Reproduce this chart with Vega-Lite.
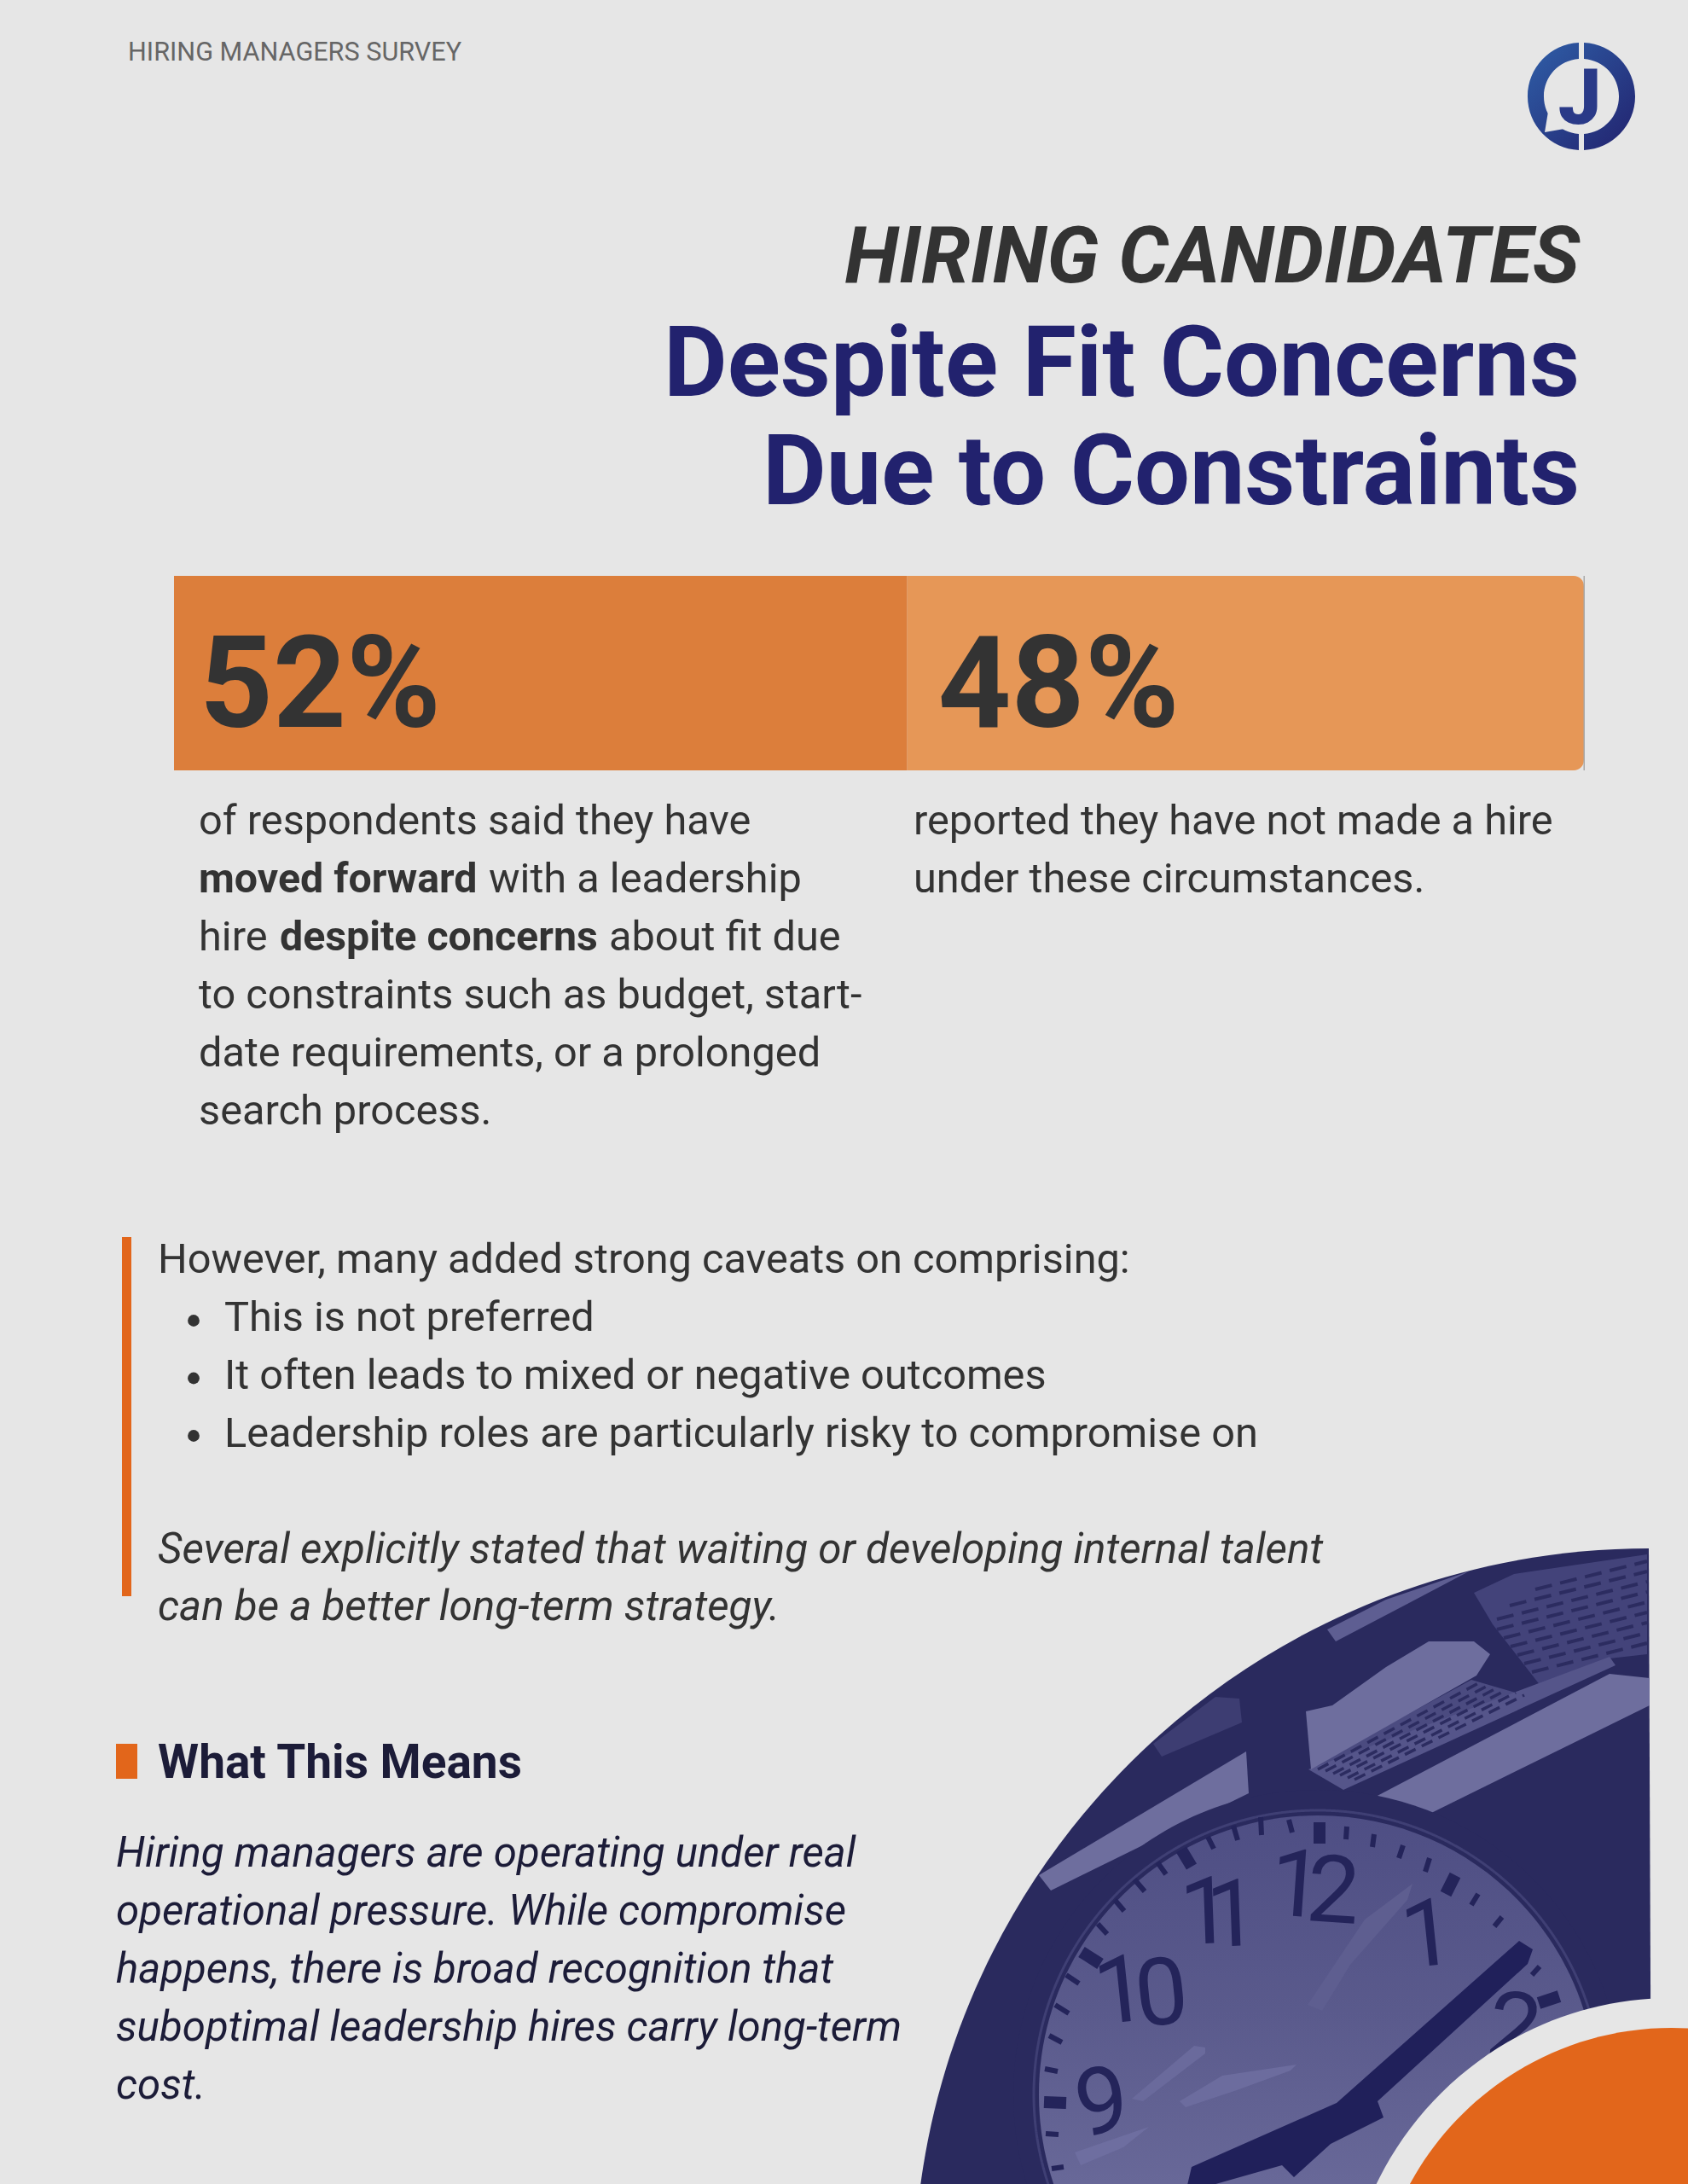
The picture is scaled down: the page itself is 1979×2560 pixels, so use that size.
{
  "$schema": "https://vega.github.io/schema/vega-lite/v6.json",
  "width": 1979,
  "height": 2560,
  "autosize": {"type": "none"},
  "padding": 0,
  "background": "#e6e6e6",
  "config": {"view": {"stroke": null}},
  "datasets": {
    "answers": [
      {"answer": "Yes", "share": 0.52},
      {"answer": "No", "share": 0.48}
    ]
  },
  "layer": [
    {
      "data": {"values": [{"part": "frame"}, {"part": "panel a"}, {"part": "panel b"}, {"part": "beam shade"}, {"part": "sliver"}, {"part": "thin band"}, {"part": "long band"}, {"part": "lamp"}, {"part": "left band"}, {"part": "rim"}]},
      "mark": {"type": "point", "filled": true, "size": 4, "opacity": 1, "strokeWidth": 0},
      "encoding": {
        "x": {"datum": "photo", "type": "nominal", "scale": {"type": "point", "range": [1000, 1000]}, "axis": null},
        "y": {"datum": "photo", "type": "nominal", "scale": {"type": "point", "range": [1780, 1780]}, "axis": null},
        "shape": {"field": "part", "type": "nominal", "legend": null, "scale": {
          "domain": ["frame", "panel a", "panel b", "beam shade", "sliver", "thin band", "long band", "lamp", "left band", "rim"],
          "range": [
            "M933 35A862 862 0 0 0 78 790L936 790Z",
            "M728 87L775 65L931 42L931 159L887 164L806 196L750 124Z",
            "M537 291L725 189L794 209L594 308Z",
            "M352 264L425 209L453 211L456 239L362 279Z",
            "M556 130L625 95L722 62L650 100L566 144Z",
            "M534 294L887 162L894 172L575 318Z",
            "M609 328L887 182L934 187L934 219L662 353Z",
            "M531 226L562 219L625 174L675 144L728 144L747 159L731 184L537 294Z",
            "M218 418L232 436L464 322L461 273Z",
            "M188 675A357 357 0 1 1 902 675A357 357 0 1 1 188 675Z"
          ]}},
        "color": {"field": "part", "type": "nominal", "legend": null, "scale": {
          "domain": ["frame", "panel a", "panel b", "beam shade", "sliver", "thin band", "long band", "lamp", "left band", "rim"],
          "range": ["#2a2a5e", "#43437a", "#4b4b80", "#3d3d72", "#5e5e92", "#55558a", "#6e6e9e", "#6e6e9e", "#6e6e9e", "#2a2a5e"]}}
      }
    },
    {
      "data": {"values": [{"part": "holes a"}, {"part": "holes b"}, {"part": "rim line"}]},
      "mark": {"type": "point", "filled": false, "size": 4, "opacity": 1},
      "encoding": {
        "x": {"datum": "photo", "type": "nominal", "scale": {"type": "point", "range": [1000, 1000]}, "axis": null},
        "y": {"datum": "photo", "type": "nominal", "scale": {"type": "point", "range": [1780, 1780]}, "axis": null},
        "shape": {"field": "part", "type": "nominal", "legend": null, "scale": {
          "domain": ["holes a", "holes b", "rim line"],
          "range": [
            "M800 83L931 50M770 102L931 62M755 118L931 74M755 130L931 86M763 140L931 98M771 150L931 110M779 160L931 122M787 170L931 134M796 180L931 146",
            "M545 294L735 192M554 296L746 195M563 299L756 198M571 301L766 201M580 304L777 204M588 306L787 207",
            "M212 675A333 333 0 1 1 878 675A333 333 0 1 1 212 675Z"
          ]}},
        "color": {"field": "part", "type": "nominal", "legend": null, "scale": {"domain": ["holes a", "holes b", "rim line"], "range": ["#2c2c60", "#2c2c60", "#3f3f74"]}},
        "strokeWidth": {"field": "part", "type": "nominal", "legend": null, "scale": {"domain": ["holes a", "holes b", "rim line"], "range": [4, 3, 4]}},
        "strokeDash": {"field": "part", "type": "nominal", "legend": null, "scale": {"domain": ["holes a", "holes b", "rim line"], "range": [[20, 10], [14, 8], [1, 0]]}}
      }
    },
    {
      "data": {"values": [{"part": "face"}]},
      "mark": {"type": "point", "filled": true, "size": 4, "opacity": 1, "strokeWidth": 0, "shape": "M218 675A327 327 0 1 1 872 675A327 327 0 1 1 218 675Z",
        "fill": {"gradient": "linear", "x1": 0, "y1": 0, "x2": 0, "y2": 1, "stops": [{"offset": 0, "color": "#4e4e84"}, {"offset": 0.35, "color": "#5a5a8c"}, {"offset": 0.66, "color": "#686898"}, {"offset": 1, "color": "#686898"}]}},
      "encoding": {
        "x": {"datum": "photo", "type": "nominal", "scale": {"type": "point", "range": [1000, 1000]}, "axis": null},
        "y": {"datum": "photo", "type": "nominal", "scale": {"type": "point", "range": [1780, 1780]}, "axis": null}
      }
    },
    {
      "data": {"values": [{"part": "glare a"}, {"part": "glare b"}, {"part": "glare c"}, {"part": "glare d"}]},
      "mark": {"type": "point", "filled": true, "size": 4, "opacity": 1, "strokeWidth": 0},
      "encoding": {
        "x": {"datum": "photo", "type": "nominal", "scale": {"type": "point", "range": [1000, 1000]}, "axis": null},
        "y": {"datum": "photo", "type": "nominal", "scale": {"type": "point", "range": [1780, 1780]}, "axis": null},
        "shape": {"field": "part", "type": "nominal", "legend": null, "scale": {
          "domain": ["glare a", "glare b", "glare c", "glare d"],
          "range": [
            "M327 680L400 618L413 620L413 627L340 683Z",
            "M383 683L433 653L520 640L513 647L450 670L390 690Z",
            "M533 570L550 577L583 523L650 447L656 428L600 470Z",
            "M260 743L347 713L317 737L267 758Z"
          ]}},
        "color": {"field": "part", "type": "nominal", "legend": null, "scale": {"domain": ["glare a", "glare b", "glare c", "glare d"], "range": ["#6a6a9c", "#6c6c9e", "#5e5e90", "#6e6ea0"]}}
      }
    },
    {
      "data": {"values": [{"part": "minute ticks"}, {"part": "hour ticks"}]},
      "mark": {"type": "point", "filled": false, "size": 4, "opacity": 1, "color": "#24245a"},
      "encoding": {
        "x": {"datum": "photo", "type": "nominal", "scale": {"type": "point", "range": [1000, 1000]}, "axis": null},
        "y": {"datum": "photo", "type": "nominal", "scale": {"type": "point", "range": [1780, 1780]}, "axis": null},
        "shape": {"field": "part", "type": "nominal", "legend": null, "scale": {
          "domain": ["minute ticks", "hour ticks"],
          "range": [
            "M478 350L479 371M511 353L515 368M579 361L578 376M611 370L609 385M645 383L640 398M676 398L671 414M733 440L725 453M761 467L752 478M805 525L796 535M446 360L451 377M416 373L423 387M357 403L367 417M330 423L342 437M307 447L318 460M287 475L298 487M250 535L265 545M237 570L253 580M230 606L245 614M225 645L240 648M226 721L241 722M233 762L247 760",
            "M547 356L547 381M706 418L695 440M828 560L804 568M385 388L397 408M268 508L290 522M224 684L250 685"
          ]}},
        "strokeWidth": {"field": "part", "type": "nominal", "legend": null, "scale": {"domain": ["minute ticks", "hour ticks"], "range": [6, 14]}}
      }
    },
    {
      "data": {"values": [{"place": "tens", "digit": "1"}, {"place": "units", "digit": "2"}]},
      "mark": {"type": "text", "font": "Roboto", "fontSize": 110, "color": "#24245a", "angle": 4, "baseline": "middle"},
      "encoding": {
        "x": {"field": "place", "type": "nominal", "scale": {"type": "point", "padding": 0, "domain": ["tens", "units"], "range": [1520, 1563]}, "axis": null},
        "y": {"field": "place", "type": "nominal", "scale": {"type": "point", "padding": 0, "domain": ["tens", "units"], "range": [2213, 2220]}, "axis": null},
        "text": {"field": "digit"}
      }
    },
    {
      "data": {"values": [{"place": "tens", "digit": "1"}, {"place": "units", "digit": "1"}]},
      "mark": {"type": "text", "font": "Roboto", "fontSize": 110, "color": "#24245a", "angle": -2, "baseline": "middle"},
      "encoding": {
        "x": {"field": "place", "type": "nominal", "scale": {"type": "point", "padding": 0, "domain": ["tens", "units"], "range": [1414, 1445]}, "axis": null},
        "y": {"field": "place", "type": "nominal", "scale": {"type": "point", "padding": 0, "domain": ["tens", "units"], "range": [2245, 2248]}, "axis": null},
        "text": {"field": "digit"}
      }
    },
    {
      "data": {"values": [{"place": "tens", "digit": "1"}, {"place": "units", "digit": "0"}]},
      "mark": {"type": "text", "font": "Roboto", "fontSize": 110, "color": "#24245a", "angle": -6, "baseline": "middle"},
      "encoding": {
        "x": {"field": "place", "type": "nominal", "scale": {"type": "point", "padding": 0, "domain": ["tens", "units"], "range": [1314, 1362]}, "axis": null},
        "y": {"field": "place", "type": "nominal", "scale": {"type": "point", "padding": 0, "domain": ["tens", "units"], "range": [2337, 2340]}, "axis": null},
        "text": {"field": "digit"}
      }
    },
    {
      "data": {"values": [{"hour": "9"}]},
      "mark": {"type": "text", "font": "Roboto", "fontSize": 110, "color": "#24245a", "angle": -8, "baseline": "middle"},
      "encoding": {
        "x": {"datum": "dial", "type": "nominal", "scale": {"type": "point", "range": [1292, 1292]}, "axis": null},
        "y": {"datum": "dial", "type": "nominal", "scale": {"type": "point", "range": [2468, 2468]}, "axis": null},
        "text": {"field": "hour"}
      }
    },
    {
      "data": {"values": [{"hour": "1"}]},
      "mark": {"type": "text", "font": "Roboto", "fontSize": 110, "color": "#24245a", "angle": -6, "baseline": "middle"},
      "encoding": {
        "x": {"datum": "dial", "type": "nominal", "scale": {"type": "point", "range": [1674, 1674]}, "axis": null},
        "y": {"datum": "dial", "type": "nominal", "scale": {"type": "point", "range": [2271, 2271]}, "axis": null},
        "text": {"field": "hour"}
      }
    },
    {
      "data": {"values": [{"hour": "2"}]},
      "mark": {"type": "text", "font": "Roboto", "fontSize": 110, "color": "#24245a", "angle": 8, "baseline": "middle"},
      "encoding": {
        "x": {"datum": "dial", "type": "nominal", "scale": {"type": "point", "range": [1775, 1775]}, "axis": null},
        "y": {"datum": "dial", "type": "nominal", "scale": {"type": "point", "range": [2380, 2380]}, "axis": null},
        "text": {"field": "hour"}
      }
    },
    {
      "data": {"values": [{"part": "hand"}]},
      "mark": {"type": "point", "filled": true, "size": 4, "opacity": 1, "strokeWidth": 0, "color": "#20205a", "shape": "M781 495L797 505L791 522L615 683L622 702L560 733L517 772L503 758L390 790L397 760L567 685Z"},
      "encoding": {
        "x": {"datum": "photo", "type": "nominal", "scale": {"type": "point", "range": [1000, 1000]}, "axis": null},
        "y": {"datum": "photo", "type": "nominal", "scale": {"type": "point", "range": [1780, 1780]}, "axis": null}
      }
    },
    {
      "data": {"values": [{"part": "halo"}, {"part": "orange"}]},
      "mark": {"type": "point", "filled": true, "size": 4, "opacity": 1, "strokeWidth": 0},
      "encoding": {
        "x": {"datum": "photo", "type": "nominal", "scale": {"type": "point", "range": [1000, 1000]}, "axis": null},
        "y": {"datum": "photo", "type": "nominal", "scale": {"type": "point", "range": [1780, 1780]}, "axis": null},
        "shape": {"field": "part", "type": "nominal", "legend": null, "scale": {"domain": ["halo", "orange"], "range": ["M576 946A384 384 0 1 1 1344 946A384 384 0 1 1 576 946Z", "M611 946A349 349 0 1 1 1309 946A349 349 0 1 1 611 946Z"]}},
        "color": {"field": "part", "type": "nominal", "legend": null, "scale": {"domain": ["halo", "orange"], "range": ["#e6e6e6", "#e2661b"]}}
      }
    },
    {
      "data": {"values": [{"part": "ring"}]},
      "mark": {"type": "point", "filled": true, "size": 4, "opacity": 1, "strokeWidth": 0, "shape": "M-3 -62.93A63 63 0 0 0 -3 62.93L-3 43.9A44 44 0 0 1 -3 -43.9ZM3 -62.93A63 63 0 0 1 3 62.93L3 43.9A44 44 0 0 0 3 -43.9Z",
        "fill": {"gradient": "linear", "x1": 0, "y1": 0, "x2": 1, "y2": 1, "stops": [{"offset": 0, "color": "#2f5fa8"}, {"offset": 1, "color": "#22226e"}]}},
      "encoding": {
        "x": {"datum": "logo", "type": "nominal", "scale": {"type": "point", "range": [1854, 1854]}, "axis": null},
        "y": {"datum": "logo", "type": "nominal", "scale": {"type": "point", "range": [113, 113]}, "axis": null}
      }
    },
    {
      "data": {"values": [{"part": "speech tail"}]},
      "mark": {"type": "point", "filled": true, "size": 4, "opacity": 1, "strokeWidth": 0, "color": "#e6e6e6", "shape": "M-39 18L-43 42L-20 38L-20 20Z"},
      "encoding": {
        "x": {"datum": "logo", "type": "nominal", "scale": {"type": "point", "range": [1854, 1854]}, "axis": null},
        "y": {"datum": "logo", "type": "nominal", "scale": {"type": "point", "range": [113, 113]}, "axis": null}
      }
    },
    {
      "data": {"values": [{"copy": "J"}]},
      "mark": {"type": "text", "font": "Roboto", "fontWeight": 900, "fontSize": 90, "color": "#2a3a88", "align": "center", "baseline": "alphabetic"},
      "encoding": {
        "x": {"datum": "logo", "type": "nominal", "scale": {"type": "point", "range": [1852, 1852]}, "axis": null},
        "y": {"datum": "logo", "type": "nominal", "scale": {"type": "point", "range": [145, 145]}, "axis": null},
        "text": {"field": "copy"}
      }
    },
    {
      "data": {"values": [{"copy": "HIRING MANAGERS SURVEY"}]},
      "mark": {"type": "text", "font": "Roboto", "fontSize": 30.6, "color": "#666666", "align": "left", "baseline": "alphabetic"},
      "encoding": {
        "x": {"datum": "header", "type": "nominal", "scale": {"type": "point", "range": [150, 150]}, "axis": null},
        "y": {"datum": "header", "type": "nominal", "scale": {"type": "point", "range": [71, 71]}, "axis": null},
        "text": {"field": "copy"}
      }
    },
    {
      "data": {"values": [{"copy": "HIRING CANDIDATES"}]},
      "mark": {"type": "text", "font": "Roboto", "fontWeight": "bold", "fontStyle": "italic", "fontSize": 92.6, "color": "#333333", "align": "right", "baseline": "alphabetic"},
      "encoding": {
        "x": {"datum": "title", "type": "nominal", "scale": {"type": "point", "range": [1852, 1852]}, "axis": null},
        "y": {"datum": "title", "type": "nominal", "scale": {"type": "point", "range": [331, 331]}, "axis": null},
        "text": {"field": "copy"}
      }
    },
    {
      "data": {"values": [{"line": 1, "copy": "Despite Fit Concerns"}, {"line": 2, "copy": "Due to Constraints"}]},
      "mark": {"type": "text", "font": "Roboto", "fontWeight": "bold", "fontSize": 115, "color": "#22226e", "align": "right", "baseline": "alphabetic"},
      "encoding": {
        "x": {"datum": "title", "type": "nominal", "scale": {"type": "point", "range": [1852, 1852]}, "axis": null},
        "y": {"field": "line", "type": "ordinal", "scale": {"type": "point", "padding": 0, "domain": [1, 2], "range": [464, 591]}, "axis": null},
        "text": {"field": "copy"}
      }
    },
    {
      "data": {"name": "answers"},
      "transform": [{"stack": "share", "groupby": [], "sort": [{"field": "answer", "order": "descending"}], "as": ["from", "to"]}],
      "encoding": {
        "x": {"field": "from", "type": "quantitative", "scale": {"domain": [0, 1], "range": [204, 1857]}, "axis": null},
        "y": {"datum": "responses", "type": "nominal", "scale": {"type": "band", "range": [675, 903], "paddingInner": 0, "paddingOuter": 0}, "axis": null}
      },
      "layer": [
        {
          "transform": [{"filter": "datum.answer == 'No'"}],
          "mark": {"type": "rect", "color": "#e69757", "cornerRadiusTopRight": 12, "cornerRadiusBottomRight": 12},
          "encoding": {"x2": {"field": "to"}}
        },
        {
          "transform": [{"filter": "datum.answer == 'Yes'"}],
          "mark": {"type": "rect", "color": "#dc7e3b"},
          "encoding": {"x2": {"field": "to"}}
        },
        {
          "transform": [{"filter": "datum.answer == 'Yes'"}],
          "mark": {"type": "text", "font": "Roboto", "fontWeight": "bold", "fontSize": 150, "color": "#333333", "align": "left", "baseline": "alphabetic", "dx": 30, "dy": 63},
          "encoding": {"text": {"field": "share", "type": "quantitative", "format": ".0%"}}
        },
        {
          "transform": [{"filter": "datum.answer == 'No'"}],
          "mark": {"type": "text", "font": "Roboto", "fontWeight": "bold", "fontSize": 150, "color": "#333333", "align": "left", "baseline": "alphabetic", "dx": 36, "dy": 63},
          "encoding": {"text": {"field": "share", "type": "quantitative", "format": ".0%"}}
        }
      ]
    },
    {
      "data": {"values": [{"part": "bar edge"}]},
      "mark": {"type": "rect", "color": "#a8a8a8"},
      "encoding": {
        "x": {"field": "part", "type": "nominal", "scale": {"type": "band", "range": [1856.5, 1858], "paddingInner": 0, "paddingOuter": 0}, "axis": null},
        "y": {"field": "part", "type": "nominal", "scale": {"type": "band", "range": [675, 903], "paddingInner": 0, "paddingOuter": 0}, "axis": null}
      }
    },
    {
      "data": {"values": [{"line": 1, "copy": "of respondents said they have"}, {"line": 3, "copy": "hire"}, {"line": 4, "copy": "to constraints such as budget, start-"}, {"line": 5, "copy": "date requirements, or a prolonged"}, {"line": 6, "copy": "search process."}]},
      "mark": {"type": "text", "font": "Roboto", "fontSize": 48.7, "color": "#333333", "align": "left", "baseline": "alphabetic"},
      "encoding": {
        "x": {"datum": "left", "type": "nominal", "scale": {"type": "point", "range": [233, 233]}, "axis": null},
        "y": {"field": "line", "type": "ordinal", "scale": {"type": "point", "padding": 0, "domain": [1, 2, 3, 4, 5, 6], "range": [978, 1318]}, "axis": null},
        "text": {"field": "copy"}
      }
    },
    {
      "data": {"values": [{"copy": "moved forward"}]},
      "mark": {"type": "text", "font": "Roboto", "fontWeight": "bold", "fontSize": 48.3, "color": "#333333", "align": "left", "baseline": "alphabetic"},
      "encoding": {
        "x": {"datum": "left", "type": "nominal", "scale": {"type": "point", "range": [233, 233]}, "axis": null},
        "y": {"datum": "left", "type": "nominal", "scale": {"type": "point", "range": [1046, 1046]}, "axis": null},
        "text": {"field": "copy"}
      }
    },
    {
      "data": {"values": [{"copy": "with a leadership"}]},
      "mark": {"type": "text", "font": "Roboto", "fontSize": 48.7, "color": "#333333", "align": "left", "baseline": "alphabetic"},
      "encoding": {
        "x": {"datum": "left", "type": "nominal", "scale": {"type": "point", "range": [573, 573]}, "axis": null},
        "y": {"datum": "left", "type": "nominal", "scale": {"type": "point", "range": [1046, 1046]}, "axis": null},
        "text": {"field": "copy"}
      }
    },
    {
      "data": {"values": [{"copy": "despite concerns"}]},
      "mark": {"type": "text", "font": "Roboto", "fontWeight": "bold", "fontSize": 48.3, "color": "#333333", "align": "left", "baseline": "alphabetic"},
      "encoding": {
        "x": {"datum": "left", "type": "nominal", "scale": {"type": "point", "range": [328, 328]}, "axis": null},
        "y": {"datum": "left", "type": "nominal", "scale": {"type": "point", "range": [1114, 1114]}, "axis": null},
        "text": {"field": "copy"}
      }
    },
    {
      "data": {"values": [{"copy": "about fit due"}]},
      "mark": {"type": "text", "font": "Roboto", "fontSize": 48.7, "color": "#333333", "align": "left", "baseline": "alphabetic"},
      "encoding": {
        "x": {"datum": "left", "type": "nominal", "scale": {"type": "point", "range": [714, 714]}, "axis": null},
        "y": {"datum": "left", "type": "nominal", "scale": {"type": "point", "range": [1114, 1114]}, "axis": null},
        "text": {"field": "copy"}
      }
    },
    {
      "data": {"values": [{"line": 1, "copy": "reported they have not made a hire"}, {"line": 2, "copy": "under these circumstances."}]},
      "mark": {"type": "text", "font": "Roboto", "fontSize": 48.7, "color": "#333333", "align": "left", "baseline": "alphabetic"},
      "encoding": {
        "x": {"datum": "right", "type": "nominal", "scale": {"type": "point", "range": [1071, 1071]}, "axis": null},
        "y": {"field": "line", "type": "ordinal", "scale": {"type": "point", "padding": 0, "domain": [1, 2], "range": [978, 1046]}, "axis": null},
        "text": {"field": "copy"}
      }
    },
    {
      "data": {"values": [{"part": "callout"}]},
      "mark": {"type": "rect", "color": "#e2661b"},
      "encoding": {
        "x": {"field": "part", "type": "nominal", "scale": {"type": "band", "range": [143, 154], "paddingInner": 0, "paddingOuter": 0}, "axis": null},
        "y": {"field": "part", "type": "nominal", "scale": {"type": "band", "range": [1450, 1871], "paddingInner": 0, "paddingOuter": 0}, "axis": null}
      }
    },
    {
      "data": {"values": [{"copy": "However, many added strong caveats on comprising:"}]},
      "mark": {"type": "text", "font": "Roboto", "fontSize": 48.7, "color": "#333333", "align": "left", "baseline": "alphabetic"},
      "encoding": {
        "x": {"datum": "callout", "type": "nominal", "scale": {"type": "point", "range": [185, 185]}, "axis": null},
        "y": {"datum": "callout", "type": "nominal", "scale": {"type": "point", "range": [1492, 1492]}, "axis": null},
        "text": {"field": "copy"}
      }
    },
    {
      "data": {"values": [{"line": 1}, {"line": 2}, {"line": 3}]},
      "mark": {"type": "point", "filled": true, "shape": "circle", "size": 190, "opacity": 1, "color": "#333333", "strokeWidth": 0},
      "encoding": {
        "x": {"datum": "bullet", "type": "nominal", "scale": {"type": "point", "range": [227, 227]}, "axis": null},
        "y": {"field": "line", "type": "ordinal", "scale": {"type": "point", "padding": 0, "domain": [1, 2, 3], "range": [1548, 1683]}, "axis": null}
      }
    },
    {
      "data": {"values": [{"line": 1, "copy": "This is not preferred"}, {"line": 2, "copy": "It often leads to mixed or negative outcomes"}, {"line": 3, "copy": "Leadership roles are particularly risky to compromise on"}]},
      "mark": {"type": "text", "font": "Roboto", "fontSize": 48.7, "color": "#333333", "align": "left", "baseline": "alphabetic"},
      "encoding": {
        "x": {"datum": "bullet", "type": "nominal", "scale": {"type": "point", "range": [263, 263]}, "axis": null},
        "y": {"field": "line", "type": "ordinal", "scale": {"type": "point", "padding": 0, "domain": [1, 2, 3], "range": [1560, 1696]}, "axis": null},
        "text": {"field": "copy"}
      }
    },
    {
      "data": {"values": [{"line": 1, "copy": "Several explicitly stated that waiting or developing internal talent"}, {"line": 2, "copy": "can be a better long-term strategy."}]},
      "mark": {"type": "text", "font": "Roboto", "fontStyle": "italic", "fontSize": 49.4, "color": "#333333", "align": "left", "baseline": "alphabetic"},
      "encoding": {
        "x": {"datum": "callout", "type": "nominal", "scale": {"type": "point", "range": [185, 185]}, "axis": null},
        "y": {"field": "line", "type": "ordinal", "scale": {"type": "point", "padding": 0, "domain": [1, 2], "range": [1832, 1899]}, "axis": null},
        "text": {"field": "copy"}
      }
    },
    {
      "data": {"values": [{"part": "marker"}]},
      "mark": {"type": "rect", "color": "#e2661b"},
      "encoding": {
        "x": {"field": "part", "type": "nominal", "scale": {"type": "band", "range": [136, 161], "paddingInner": 0, "paddingOuter": 0}, "axis": null},
        "y": {"field": "part", "type": "nominal", "scale": {"type": "band", "range": [2044, 2085], "paddingInner": 0, "paddingOuter": 0}, "axis": null}
      }
    },
    {
      "data": {"values": [{"copy": "What This Means"}]},
      "mark": {"type": "text", "font": "Roboto", "fontWeight": "bold", "fontSize": 55, "color": "#1c1c38", "align": "left", "baseline": "alphabetic"},
      "encoding": {
        "x": {"datum": "means", "type": "nominal", "scale": {"type": "point", "range": [185, 185]}, "axis": null},
        "y": {"datum": "means", "type": "nominal", "scale": {"type": "point", "range": [2084, 2084]}, "axis": null},
        "text": {"field": "copy"}
      }
    },
    {
      "data": {"values": [{"line": 1, "copy": "Hiring managers are operating under real"}, {"line": 2, "copy": "operational pressure. While compromise"}, {"line": 3, "copy": "happens, there is broad recognition that"}, {"line": 4, "copy": "suboptimal leadership hires carry long-term"}, {"line": 5, "copy": "cost."}]},
      "mark": {"type": "text", "font": "Roboto", "fontStyle": "italic", "fontSize": 49.2, "color": "#1c1c38", "align": "left", "baseline": "alphabetic"},
      "encoding": {
        "x": {"datum": "means", "type": "nominal", "scale": {"type": "point", "range": [136, 136]}, "axis": null},
        "y": {"field": "line", "type": "ordinal", "scale": {"type": "point", "padding": 0, "domain": [1, 2, 3, 4, 5], "range": [2188, 2460]}, "axis": null},
        "text": {"field": "copy"}
      }
    }
  ],
  "resolve": {"scale": {"x": "independent", "y": "independent", "shape": "independent", "color": "independent", "strokeWidth": "independent", "strokeDash": "independent"}}
}
